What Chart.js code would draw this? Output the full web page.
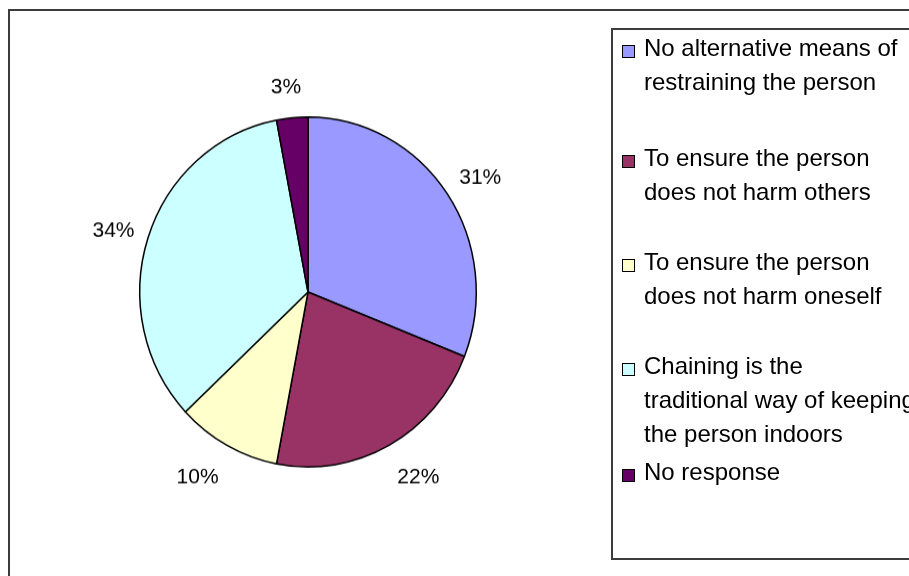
<!DOCTYPE html>
<html>
<head>
<meta charset="utf-8">
<script src="https://cdn.jsdelivr.net/npm/chart.js@4.4.1/dist/chart.umd.min.js"></script>
<style>
  html, body { margin: 0; padding: 0; width: 909px; height: 576px; overflow: hidden; background: #fff; }
  #frame { position: absolute; left: 8px; top: 9px; width: 960px; height: 640px; border: 2px solid #3c3c3c; box-sizing: border-box; }
  #legendBox { position: absolute; left: 611px; top: 28px; width: 400px; height: 532px; border: 2px solid #3c3c3c; box-sizing: border-box; }
  .item { position: absolute; left: 644px; font-family: "Liberation Sans", Arial, sans-serif; font-size: 24px; line-height: 34px; letter-spacing: 0px; color: #000; white-space: nowrap; }
  .mk { position: absolute; left: -22px; top: 14px; width: 11px; height: 11px; border: 1.5px solid #000; }
  #wrap { position: absolute; left: 0; top: 0; width: 909px; height: 576px; transform: scaleY(1.04); transform-origin: 0 292px; }
</style>
</head>
<body>
<div id="frame"></div>
<div id="legendBox"></div>
<div id="wrap"><canvas id="c" width="909" height="576"></canvas></div>
<div id="legend"></div>
<script>
const categories = [
  ["No alternative means of", "restraining the person"],
  ["To ensure the person", "does not harm others"],
  ["To ensure the person", "does not harm oneself"],
  ["Chaining is the", "traditional way of keeping", "the person indoors"],
  ["No response"]
];
const values = [31, 22, 10, 34, 3];
const sliceColors = ["#9999FF", "#993366", "#FFFFCC", "#CCFFFF", "#660066"];
const legendTops = [31, 141, 245, 349, 455];

// HTML legend (real text)
const legendEl = document.getElementById('legend');
categories.forEach((lines, i) => {
  const d = document.createElement('div');
  d.className = 'item';
  d.style.top = legendTops[i] + 'px';
  const mk = document.createElement('span');
  mk.className = 'mk';
  mk.style.background = sliceColors[i];
  d.appendChild(mk);
  lines.forEach((t, j) => {
    if (j) d.appendChild(document.createElement('br'));
    d.appendChild(document.createTextNode(t));
  });
  legendEl.appendChild(d);
});

const pctLabels = {
  id: 'pctLabels',
  afterDatasetsDraw(chart) {
    const ctx = chart.ctx;
    const meta = chart.getDatasetMeta(0);
    ctx.save();
    ctx.font = '21px "Liberation Sans", Arial, sans-serif';
    ctx.fillStyle = '#000';
    ctx.textAlign = 'center';
    ctx.textBaseline = 'middle';
    meta.data.forEach((arc, i) => {
      const p = arc.getProps(['x', 'y', 'startAngle', 'endAngle', 'outerRadius'], true);
      const mid = (p.startAngle + p.endAngle) / 2;
      const txt = values[i] + '%';
      const hw = ctx.measureText(txt).width / 2;
      const c = Math.cos(mid), s = Math.sin(mid);
      const x = p.x + (p.outerRadius + 11) * c + Math.sign(c) * (hw + 3) * Math.min(1, 3 * Math.abs(c));
      const y = p.y + (p.outerRadius + 32) * s + 3;
      ctx.fillText(txt, x, y);
    });
    ctx.restore();
  }
};

new Chart(document.getElementById('c'), {
  type: 'pie',
  data: {
    labels: categories.map(l => l.join(' ')),
    datasets: [{
      data: values,
      backgroundColor: sliceColors,
      borderColor: '#000',
      borderWidth: 1.5,
      hoverOffset: 0
    }]
  },
  options: {
    responsive: false,
    animation: false,
    layout: { padding: { left: 139, right: 432, top: 123, bottom: 115 } },
    plugins: {
      legend: { display: false },
      tooltip: { enabled: false }
    },
    events: []
  },
  plugins: [pctLabels]
});
</script>
</body>
</html>
